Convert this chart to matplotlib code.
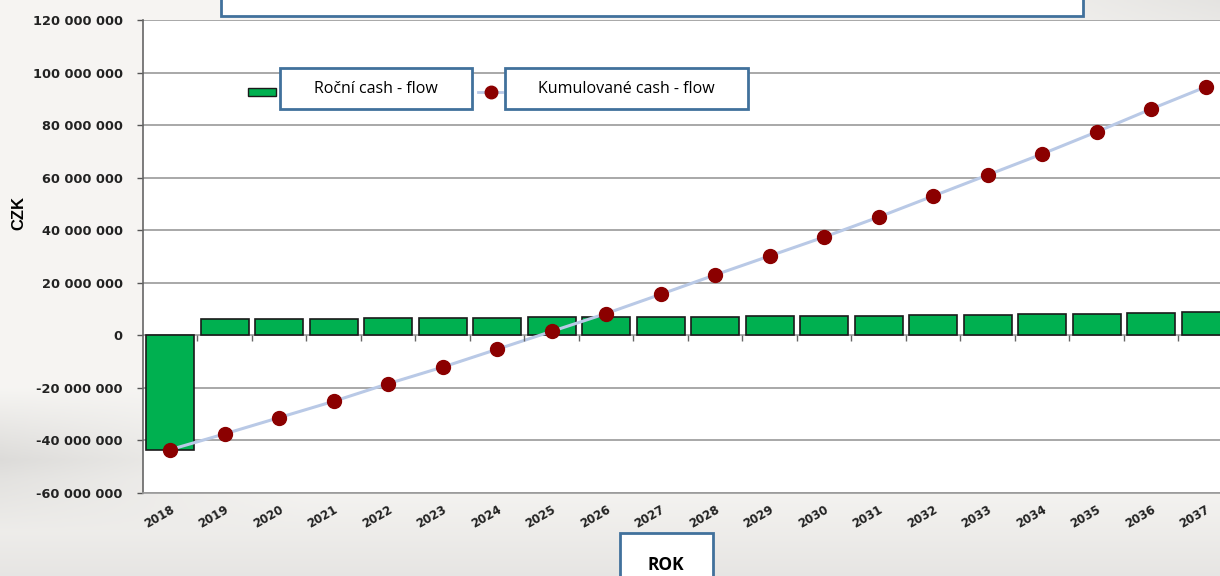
import matplotlib.pyplot as plt
import numpy as np
from matplotlib.patches import Rectangle
from matplotlib.lines import Line2D
from matplotlib.ticker import FuncFormatter, FixedLocator

# Data (CZK)
years = [str(y) for y in range(2018, 2038)]
annual_cf = [-43.5e6, 6.2e6, 6.3e6, 6.4e6, 6.5e6, 6.6e6, 6.7e6, 6.8e6, 6.9e6, 7.0e6,
             7.1e6, 7.2e6, 7.4e6, 7.5e6, 7.7e6, 7.8e6, 8.0e6, 8.2e6, 8.4e6, 8.7e6]
cumulative_cf = [-43.5e6, -37.5e6, -31.3e6, -25.1e6, -18.4e6, -12.1e6, -5.3e6, 1.5e6,
                 8.3e6, 15.6e6, 23.0e6, 30.2e6, 37.4e6, 45.0e6, 53.0e6, 61.0e6,
                 69.0e6, 77.4e6, 86.1e6, 94.5e6]
y_ticks = np.arange(-60e6, 120e6 + 1, 20e6)

label_bar = 'Roční cash - flow'
label_line = 'Kumulované cash - flow'

fig = plt.figure(figsize=(12.2, 5.76), dpi=100)

# background gradient
bg = fig.add_axes([0, 0, 1, 1], zorder=-10)
gx, gy = np.meshgrid(np.linspace(0, 1, 300), np.linspace(0, 1, 200))
shade = 0.965 - 0.10 * np.clip((gx - 0.75) * 3, 0, 1) * np.clip((gy - 0.85) * 6, 0, 1)
shade -= 0.10 * np.clip(1 - np.abs(gy - 0.2) * 8, 0, 1) * np.clip(1 - gx * 4, 0, 1)
shade -= 0.06 * np.clip(1 - gy * 6, 0, 1)
bg.imshow(np.dstack([shade, shade * 0.995, shade * 0.985]), extent=[0, 1, 0, 1],
          aspect='auto', origin='lower')
bg.set_axis_off()

ax = fig.add_axes([143 / 1220, 83 / 576, 1077 / 1220, 473 / 576])
ax.set_facecolor('white')
x = np.arange(len(years))

ax.bar(x, annual_cf, width=0.88, color='#00b050', edgecolor='#1a1a1a',
       linewidth=1.2, zorder=3, label=label_bar)
ax.plot(x, cumulative_cf, color='#b9c9e6', linewidth=2.2, zorder=4,
        marker='o', markersize=10, markerfacecolor='#8b0000',
        markeredgecolor='#8b0000', label=label_line)

ax.set_xlim(-0.5, (1220 - 170) / 54.5)
ax.set_ylim(-60e6, 120e6)
ax.yaxis.set_major_locator(FixedLocator(y_ticks))
ax.yaxis.set_major_formatter(FuncFormatter(lambda v, p: f'{int(v):,}'.replace(',', ' ')))
ax.grid(axis='y', color='#9a9a9a', linewidth=1.2, zorder=0)
ax.tick_params(axis='y', length=4, color='#555555', width=1, pad=10.5)
for lbl in ax.get_yticklabels():
    lbl.set_fontweight('bold')
    lbl.set_fontsize(9.3)
    lbl.set_fontfamily('DejaVu Sans')
    lbl.set_color('#222222')

ax.set_xticks(x)
ax.set_xticklabels(years, rotation=30, ha='right', rotation_mode='anchor',
                   fontsize=8.5, fontweight='bold', family='DejaVu Sans',
                   color='#222222')
ax.tick_params(axis='x', length=0, pad=7)

# category axis ticks on the zero line
sec = ax.secondary_xaxis(1 / 3)
sec.set_xticks(x[:-1] + 0.5)
sec.set_xticklabels([])
sec.tick_params(length=4, width=1, color='#666666', direction='out')
sec.spines['bottom'].set_visible(False)
sec.set_zorder(10)

for s in ['top', 'right']:
    ax.spines[s].set_visible(False)
ax.spines['left'].set_color('#666666')
ax.spines['left'].set_linewidth(1.2)
ax.spines['bottom'].set_color('#9a9a9a')
ax.spines['bottom'].set_linewidth(1.2)

fig.text(19 / 1220, 1 - 213 / 576, 'CZK', rotation=90, ha='center', va='center',
         fontsize=12, fontweight='bold', family='Liberation Sans')

box_col = '#41719c'
# title box (cut off at the top)
fig.patches.append(Rectangle((221 / 1220, 1 - 16 / 576), 862 / 1220, 30 / 576,
                             transform=fig.transFigure, facecolor='white',
                             edgecolor=box_col, linewidth=2, zorder=5))

# legend
fig.patches.append(Rectangle((248 / 1220, 1 - 96 / 576), 28 / 1220, 8 / 576,
                             transform=fig.transFigure, facecolor='#00b050',
                             edgecolor='#1a1a1a', linewidth=1, zorder=5))
fig.patches.append(Rectangle((280 / 1220, 1 - 109 / 576), 192 / 1220, 41 / 576,
                             transform=fig.transFigure, facecolor='white',
                             edgecolor=box_col, linewidth=2, zorder=5))
fig.text(376 / 1220, 1 - 89 / 576, label_bar, ha='center', va='center',
         fontsize=11.5, family='Open Sans', zorder=6)
fig.lines.append(Line2D([478 / 1220, 502 / 1220], [1 - 92 / 576, 1 - 92 / 576],
                        transform=fig.transFigure, color='#b9c9e6', linewidth=2,
                        zorder=5))
fig.lines.append(Line2D([491 / 1220], [1 - 92 / 576], transform=fig.transFigure,
                        marker='o', markersize=9, color='#8b0000', zorder=5))
fig.patches.append(Rectangle((505 / 1220, 1 - 109 / 576), 243 / 1220, 41 / 576,
                             transform=fig.transFigure, facecolor='white',
                             edgecolor=box_col, linewidth=2, zorder=5))
fig.text(626 / 1220, 1 - 89 / 576, label_line, ha='center', va='center',
         fontsize=11.5, family='Open Sans', zorder=6)

# x-axis label box
fig.patches.append(Rectangle((620 / 1220, -10 / 576), 93 / 1220, 53 / 576,
                             transform=fig.transFigure, facecolor='white',
                             edgecolor=box_col, linewidth=2, zorder=5))
fig.text(666 / 1220, 1 - 565 / 576, 'ROK', ha='center', va='center',
         fontsize=12.5, fontweight='bold', family='Open Sans', zorder=6)

fig.savefig('out.png', dpi=100)
